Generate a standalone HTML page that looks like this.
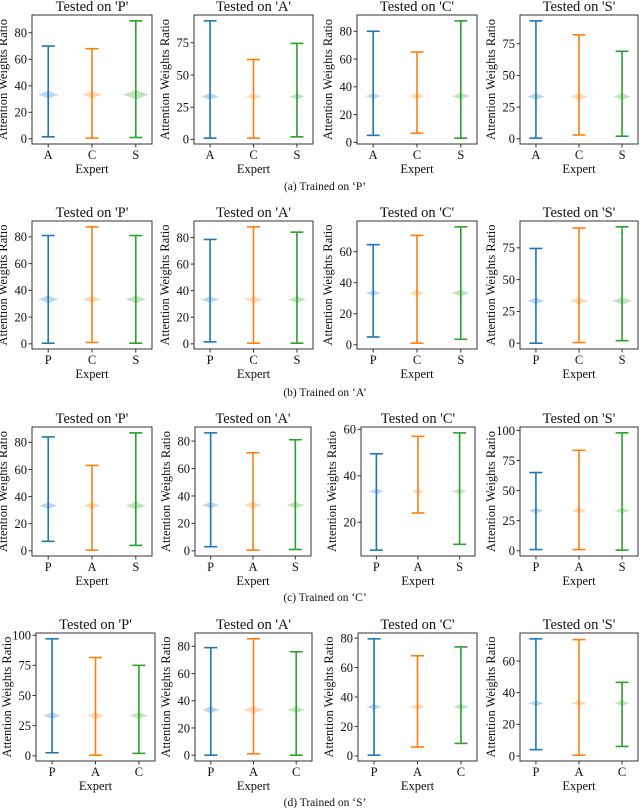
<!DOCTYPE html>
<html><head><meta charset="utf-8">
<style>
html,body{margin:0;padding:0;background:#fff;}
svg{display:block;font-family:"Liberation Serif","DejaVu Serif",serif;}
</style></head>
<body>
<svg id="fig" width="640" height="808" viewBox="0 0 640 808" xmlns="http://www.w3.org/2000/svg"></svg>
<script>
// ---- data ----
const rowCaptions = ["(a) Trained on \u2018P\u2019","(b) Trained on \u2018A\u2019","(c) Trained on \u2018C\u2019","(d) Trained on \u2018S\u2019"];
const panelTitles = ["Tested on 'P'","Tested on 'A'","Tested on 'C'","Tested on 'S'"];
const rowCategories = [["A","C","S"],["P","C","S"],["P","A","S"],["P","A","C"]];
const seriesColors = ["#1f77b4","#ff7f0e","#2ca02c"];
const medianValue = 33.3;
const minValues = [
  [[1.5,0.5,1],[1,1,2],[5,6.5,3],[0.5,3,2]],
  [[0.5,1,0.5],[1.5,0.5,0.5],[5,1,3.5],[0,0.5,2]],
  [[7,0.5,4],[3,0.5,1],[8,24,10.5],[1,1,0.5]],
  [[2.5,0.5,2],[0,1,0],[0.5,6,8.5],[4,0.5,6]]
];
const maxValues = [
  [[70,68,89],[92,62,74.5],[80,65,87.5],[93,82,69]],
  [[81,87.5,81],[78.5,88,84],[64.5,70.5,76],[74.5,90.5,91.5]],
  [[84,63,87],[86,71.5,81],[49.5,57,58.5],[65,83.5,98]],
  [[97,81.5,75],[79,85.5,76],[79.5,68,74],[74,73.5,46.5]]
];
const violinDensity = [
  [[0.8,0.8,1.0],[0.7,0.6,0.6],[0.6,0.6,0.7],[0.7,0.7,0.7]],
  [[0.8,0.7,0.8],[0.7,0.7,0.7],[0.6,0.6,0.7],[0.7,0.7,0.8]],
  [[0.7,0.7,0.8],[0.7,0.7,0.7],[0.6,0.5,0.6],[0.6,0.6,0.6]],
  [[0.7,0.7,0.7],[0.7,0.8,0.7],[0.6,0.6,0.6],[0.6,0.6,0.6]]
];
const tickValues = [
  [[0,20,40,60,80],[0,25,50,75],[0,20,40,60,80],[0,25,50,75]],
  [[0,20,40,60,80],[0,20,40,60,80],[0,20,40,60],[0,25,50,75]],
  [[0,20,40,60,80],[0,20,40,60,80],[20,40,60],[0,25,50,75,100]],
  [[0,25,50,75,100],[0,20,40,60,80],[0,20,40,60,80],[0,20,40,60]]
];
// ---- layout ----
const rowTops=[15,221,427,633], rowBottoms=[144,349,556,761], captionY=[190,396,601,806];
const panelLefts=[[32,194,357,520],[32,194,357,520],[32,195,361,520],[36,195,358,520]];
const panelRights=[[152,313,477,638],[152,313,477,638],[152,311,475,638],[155,312,477,638]];
const catFrac=[0.135,0.5,0.865];
const NS="http://www.w3.org/2000/svg";
const svg=document.getElementById('fig');
function mk(tag,attrs,parent){const e=document.createElementNS(NS,tag);for(const k in attrs)e.setAttribute(k,attrs[k]);(parent||svg).appendChild(e);return e;}

for(let r=0;r<4;r++){
  for(let p=0;p<4;p++){
    const g=mk('g',{});
    
    
    const L=panelLefts[r][p],R=panelRights[r][p],T=rowTops[r],B=rowBottoms[r];
    const mins=minValues[r][p],maxs=maxValues[r][p];
    const lo=Math.min(...mins),hi=Math.max(...maxs),rg=hi-lo;
    const y0=lo-0.05*rg,y1=hi+0.05*rg;
    const yS=v=>B-(v-y0)/(y1-y0)*(B-T);
    const xS=i=>L+catFrac[i]*(R-L);
    const unit=(R-L)*0.365;
    // violins
    for(let i=0;i<3;i++){
      const cx=xS(i),cy=yS(medianValue),hw=violinDensity[r][p][i]*unit*0.3;
      const hv=6*violinDensity[r][p][i];
      const pts=[];
      for(let k=-10;k<=10;k++){const t=k/10;const w=hw*Math.pow(1-Math.abs(t),1.6);pts.push([cx+w,cy+t*hv]);}
      for(let k=10;k>=-10;k--){const t=k/10;const w=hw*Math.pow(1-Math.abs(t),1.6);pts.push([cx-w,cy+t*hv]);}
      const v=mk('polygon',{points:pts.map(q=>q[0].toFixed(1)+','+q[1].toFixed(1)).join(' '),fill:seriesColors[i],'fill-opacity':0.3},g);
      
      
      const ln=mk('g',{stroke:seriesColors[i],'stroke-width':1.6,fill:'none'},g);
      
      
      mk('line',{x1:cx,x2:cx,y1:yS(mins[i]),y2:yS(maxs[i])},ln);
      mk('line',{x1:cx-6.5,x2:cx+6.5,y1:yS(mins[i]),y2:yS(mins[i])},ln);
      mk('line',{x1:cx-6.5,x2:cx+6.5,y1:yS(maxs[i]),y2:yS(maxs[i])},ln);
    }
    // frame
    const fr=mk('rect',{x:L,y:T,width:R-L,height:B-T,fill:'none',stroke:'#333','stroke-width':1},g);
    
    
    // y ticks
    tickValues[r][p].forEach(v=>{
      const y=yS(v);
      mk('line',{x1:L-3.5,x2:L,y1:y,y2:y,stroke:'#333','stroke-width':1},g);
      const t=mk('text',{x:L-5,y:y+4.3,'text-anchor':'end','font-size':12.5,fill:'#111'},g);
      t.textContent=v;
      
      
    });
    // x ticks
    for(let i=0;i<3;i++){
      const x=xS(i);
      mk('line',{x1:x,x2:x,y1:B,y2:B+3.5,stroke:'#333','stroke-width':1},g);
      const t=mk('text',{x:x,y:B+15,'text-anchor':'middle','font-size':12.5,fill:'#111'},g);
      t.textContent=rowCategories[r][i];
      
      
    }
    const xl=mk('text',{x:(L+R)/2,y:B+29,'text-anchor':'middle','font-size':12.5,fill:'#111'},g);
    xl.textContent='Expert';
    
    
    const yc=(T+B)/2,yx=L-25;
    const yl=mk('text',{x:yx,y:yc,'text-anchor':'middle','font-size':12.5,fill:'#111',transform:'rotate(-90 '+yx+' '+yc+')'},g);
    yl.textContent='Attention Weights Ratio';
    
    
    const tt=mk('text',{x:(L+R)/2,y:T-4,'text-anchor':'middle','font-size':14.5,fill:'#111'},g);
    tt.textContent=panelTitles[p];
    
    
  }
  const c=mk('text',{x:325,y:captionY[r],'text-anchor':'middle','font-size':11.5,fill:'#111'});
  c.textContent=rowCaptions[r];
  
  
}
</script>
</body></html>
